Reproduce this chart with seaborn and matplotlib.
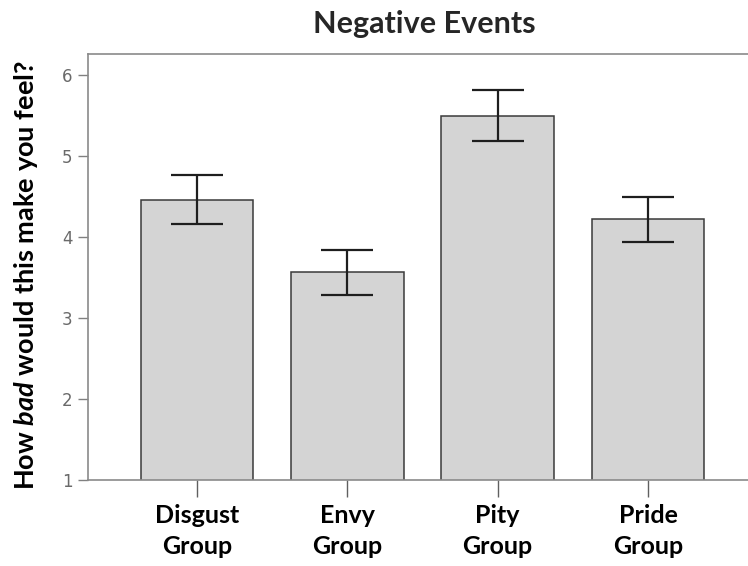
import numpy as np
import pandas as pd
import matplotlib
matplotlib.use("Agg")
import matplotlib.pyplot as plt
import seaborn as sns

# ── Data ──────────────────────────────────────────────────────
groups = ["Disgust\nGroup", "Envy\nGroup", "Pity\nGroup", "Pride\nGroup"]
means = [4.46, 3.57, 5.50, 4.22]
err_low = [4.16, 3.28, 5.19, 3.94]
err_high = [4.76, 3.84, 5.81, 4.50]
yticks = [1, 2, 3, 4, 5, 6]

sns.set_theme(style="white")
plt.rcParams["font.family"] = ["Lato", "DejaVu Sans"]
plt.rcParams["mathtext.fontset"] = "custom"
plt.rcParams["mathtext.it"] = "Lato:italic:bold"
plt.rcParams["mathtext.rm"] = "Lato:bold"

df = pd.DataFrame({"group": groups, "mean": means})

fig = plt.figure(figsize=(7.48, 5.66), dpi=100)
ax = fig.add_axes([88 / 748, 1 - 480 / 566, 1 - 88 / 748, (480 - 54) / 566])

sns.barplot(data=df, x="group", y="mean", ax=ax, color="#d4d4d4",
            saturation=1, width=0.75, errorbar=None,
            edgecolor="#3a3a3a", linewidth=1.1)

yerr = [np.array(means) - np.array(err_low), np.array(err_high) - np.array(means)]
ax.errorbar(np.arange(len(groups)), means, yerr=yerr, fmt="none",
            ecolor="#1e1e1e", elinewidth=1.6, capsize=19, capthick=1.6)

ax.set_ylim(1, 6.26)
ax.set_xlim(-0.725, 3.665)
ax.set_yticks(yticks)
ax.set_yticklabels([str(t) for t in yticks], color="#6a6a6a", fontsize=12,
                   family="DejaVu Sans")
ax.tick_params(axis="y", direction="out", length=7, width=1, color="#808080",
               left=True, pad=4)
ax.tick_params(axis="x", direction="out", length=12, width=1, color="#606060",
               bottom=True, pad=5, labelsize=18)
for lbl in ax.get_xticklabels():
    lbl.set_fontweight("bold")
    lbl.set_color("black")
    lbl.set_linespacing(1.45)

for side in ["left", "top", "bottom"]:
    ax.spines[side].set_visible(True)
    ax.spines[side].set_color("#8a8a8a")
    ax.spines[side].set_linewidth(1.2)
ax.spines["right"].set_visible(False)

ax.set_xlabel("")
ax.set_ylabel(r"How $\mathit{bad}$ would this make you feel?", fontsize=19.5,
              fontweight="bold", color="black")
ax.yaxis.set_label_coords(-0.072, 0.48)
ax.set_title("Negative Events", fontsize=22, fontweight="bold", pad=15, x=0.51)

fig.savefig("out.png", dpi=100)
